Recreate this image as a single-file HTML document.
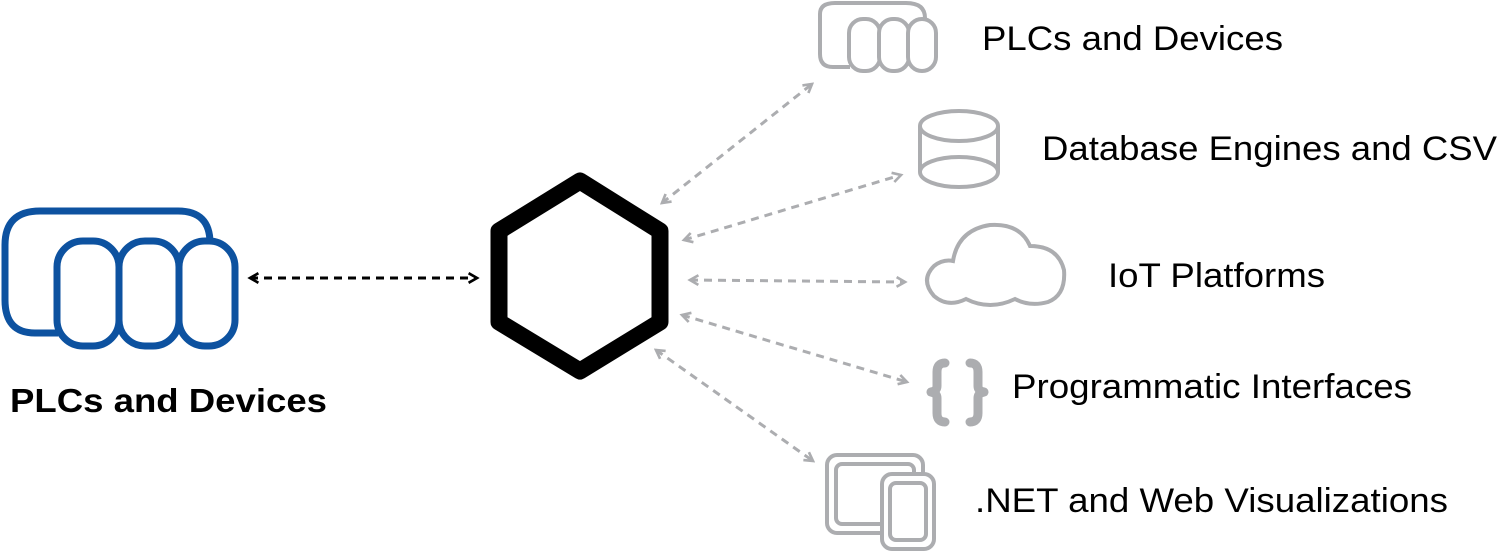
<!DOCTYPE html>
<html><head><meta charset="utf-8"><style>
html,body{margin:0;padding:0;background:#fff;width:1500px;height:551px;overflow:hidden}
svg{display:block}
text{font-family:"Liberation Sans",Arial,sans-serif}
</style></head><body>
<svg width="1500" height="551" viewBox="0 0 1500 551" xmlns="http://www.w3.org/2000/svg">
<defs>
<marker id="ab" viewBox="0 0 10 10" refX="8" refY="5" markerWidth="4" markerHeight="4" orient="auto-start-reverse"><path d="M1 1 L8 5 L1 9" fill="none" stroke="#000" stroke-width="2.2"/></marker>
<marker id="ag" viewBox="0 0 10 10" refX="8" refY="5" markerWidth="4" markerHeight="4" orient="auto-start-reverse"><path d="M1 1 L8 5 L1 9" fill="none" stroke="#acadb0" stroke-width="2.2"/></marker>
</defs>
<!-- blue icon -->
<g fill="#fff" stroke="#0d52a0" stroke-width="7">
<path d="M58 333 L35 333 Q5 333 5 300 L5 245 Q5 211 40 211 L178 211 Q210 211 210 243"/>
<rect x="57" y="241" width="62" height="105" rx="26"/>
<rect x="119" y="241" width="60" height="105" rx="26"/>
<rect x="179" y="241" width="56" height="105" rx="26"/>
</g>
<text x="10" y="412" font-size="33" font-weight="bold" textLength="317" lengthAdjust="spacingAndGlyphs">PLCs and Devices</text>
<line x1="250" y1="278" x2="477" y2="278" stroke="#000" stroke-width="3" stroke-dasharray="8,6" marker-start="url(#ab)" marker-end="url(#ab)"/>
<!-- hexagon -->
<polygon points="580,181 660,231 660,322 580,371 499,322 499,231" fill="#fff" stroke="#000" stroke-width="17" stroke-linejoin="round"/>
<!-- gray connectors -->
<g stroke="#acadb0" stroke-width="3" stroke-dasharray="8,6" fill="none">
<line x1="662" y1="203" x2="812" y2="84" marker-start="url(#ag)" marker-end="url(#ag)"/>
<line x1="684" y1="240" x2="901" y2="175" marker-start="url(#ag)" marker-end="url(#ag)"/>
<line x1="690" y1="280" x2="905" y2="282" marker-start="url(#ag)" marker-end="url(#ag)"/>
<line x1="682" y1="315" x2="907" y2="382" marker-start="url(#ag)" marker-end="url(#ag)"/>
<line x1="656" y1="350" x2="813" y2="461" marker-start="url(#ag)" marker-end="url(#ag)"/>
</g>
<!-- gray icons -->
<g fill="#fff" stroke="#acadb0" stroke-width="4">
<path d="M850 67 L833 67 Q820 67 820 54 L820 14 Q820 3 835 3 L906 3 Q925 3 925 18"/>
<rect x="849" y="19" width="31" height="52" rx="14"/>
<rect x="879" y="19" width="30" height="52" rx="14"/>
<rect x="908" y="19" width="28" height="52" rx="14"/>
<path d="M920 126 L920 172 A39 15 0 0 0 998 172 L998 126"/>
<ellipse cx="959" cy="126" rx="39" ry="15"/>
<path d="M920 172 A39 15 0 0 1 998 172" fill="none"/>
<path d="M966 299 Q948 308 934 296 Q920 280 934 266 Q943 259 953 261 Q958 230 990 225 Q1020 223 1030 246 Q1058 246 1064 270 Q1066 295 1048 302 Q1030 307 1015 299 Q990 311 966 299 Z"/>
<rect x="827" y="455" width="96" height="78" rx="10"/>
<rect x="836" y="464" width="78" height="60" rx="6"/>
<rect x="882" y="474" width="52" height="75" rx="10"/>
<rect x="890" y="483" width="36" height="57" rx="6"/>
</g>
<g fill="none" stroke="#acadb0" stroke-width="9" stroke-linecap="round" stroke-linejoin="round">
<path d="M945 363 Q937 363 937 372 L937 386 Q937 391 931 392 Q937 393 937 398 L937 413 Q937 422 945 422"/>
<path d="M970 363 Q978 363 978 372 L978 386 Q978 391 984 392 Q978 393 978 398 L978 413 Q978 422 970 422"/>
</g>
<g font-size="34" fill="#000" lengthAdjust="spacingAndGlyphs">
<text x="982" y="50" textLength="301" lengthAdjust="spacingAndGlyphs">PLCs and Devices</text>
<text x="1042" y="160" textLength="455" lengthAdjust="spacingAndGlyphs">Database Engines and CSV</text>
<text x="1108" y="287" textLength="217" lengthAdjust="spacingAndGlyphs">IoT Platforms</text>
<text x="1012" y="398" textLength="400" lengthAdjust="spacingAndGlyphs">Programmatic Interfaces</text>
<text x="975" y="512" textLength="473" lengthAdjust="spacingAndGlyphs">.NET and Web Visualizations</text>
</g>
</svg>
</body></html>
